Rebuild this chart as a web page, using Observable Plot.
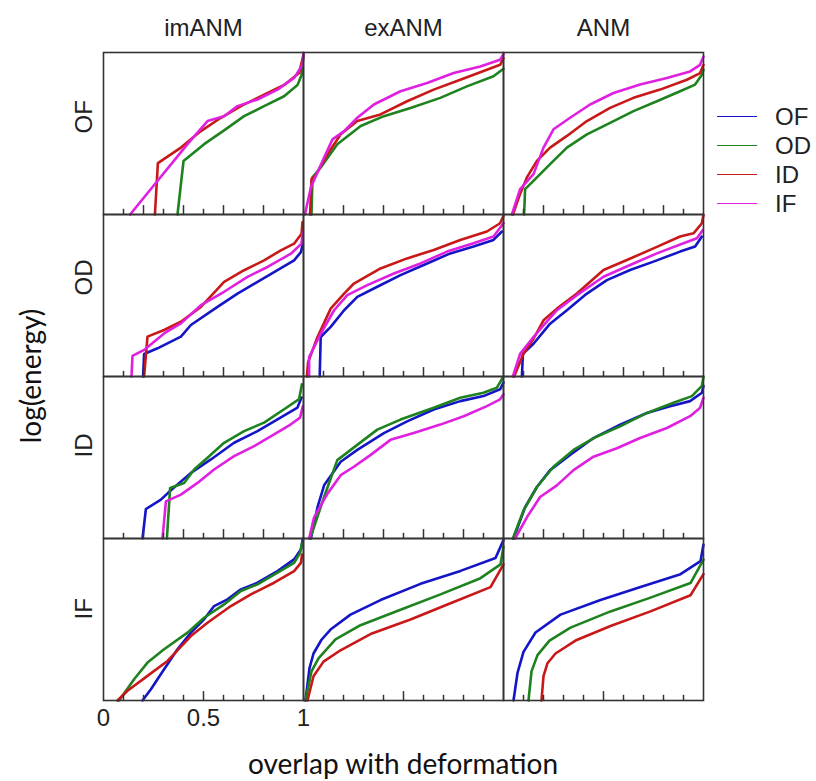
<!DOCTYPE html>
<html><head><meta charset="utf-8">
<script src="https://cdn.jsdelivr.net/npm/d3@7"></script>
<script src="https://cdn.jsdelivr.net/npm/@observablehq/plot@0.6"></script>
<style>
body{margin:0;background:#fff;}
#wrap{position:relative;width:816px;height:781px;font-family:"Liberation Sans",Arial,sans-serif;color:#222;overflow:hidden;}
.lab{position:absolute;font-family:Lato,"Open Sans",sans-serif;font-size:28px;line-height:32px;white-space:nowrap;color:#111;}
#legend{position:absolute;left:717px;top:102px;}
.li{display:flex;align-items:center;height:29px;font-size:24px;}
.li span.sw{display:inline-block;width:40px;height:1.6px;margin-right:18px;}
</style></head><body><div id="wrap"></div>
<script>
const columns = ["imANM", "exANM", "ANM"];
const rows = ["OF", "OD", "ID", "IF"];
const series = ["OF", "OD", "ID", "IF"];
const colors = ["#1515c8", "#1e821e", "#c81818", "#e020e0"];
const xTicks = [0.1, 0.2, 0.3, 0.4, 0.5, 0.6, 0.7, 0.8, 0.9];
const xTickLabels = [0, 0.5, 1];

// row OF
const OF_imANM_OD = [[0.37,0],[0.40,0.33],[0.503,0.434],[0.603,0.519],[0.703,0.607],[0.803,0.669],[0.903,0.73],[0.97,0.80],[0.99,0.86],[1,0.985]];
const OF_imANM_ID = [[0.257,0],[0.272,0.317],[0.387,0.413],[0.487,0.515],[0.587,0.597],[0.687,0.669],[0.803,0.74],[0.903,0.80],[0.978,0.873],[1,0.985]];
const OF_imANM_IF = [[0.133,0],[0.42,0.434],[0.52,0.577],[0.603,0.607],[0.67,0.669],[0.77,0.71],[0.87,0.771],[0.953,0.843],[0.995,0.924],[1,0.996]];
const OF_exANM_OD = [[0.04,0],[0.045,0.229],[0.086,0.29],[0.169,0.434],[0.286,0.546],[0.402,0.607],[0.535,0.658],[0.684,0.72],[0.817,0.791],[0.95,0.853],[1,0.9]];
const OF_exANM_ID = [[0.033,0],[0.04,0.219],[0.06,0.24],[0.12,0.372],[0.186,0.495],[0.269,0.577],[0.385,0.618],[0.518,0.699],[0.651,0.771],[0.784,0.832],[0.917,0.894],[0.983,0.924],[1,0.965]];
const OF_exANM_IF = [[0.007,0],[0.037,0.168],[0.103,0.352],[0.145,0.464],[0.203,0.515],[0.269,0.597],[0.352,0.679],[0.485,0.761],[0.618,0.812],[0.751,0.873],[0.884,0.914],[0.983,0.955],[1,0.99]];
const OF_ANM_OD = [[0.103,0],[0.108,0.157],[0.167,0.229],[0.233,0.311],[0.317,0.413],[0.417,0.495],[0.533,0.566],[0.65,0.638],[0.767,0.699],[0.883,0.761],[0.958,0.802],[0.992,0.863],[1,0.894]];
const OF_ANM_ID = [[0.047,0],[0.083,0.127],[0.117,0.229],[0.167,0.331],[0.233,0.413],[0.317,0.485],[0.417,0.577],[0.533,0.658],[0.65,0.72],[0.783,0.771],[0.917,0.832],[0.983,0.873],[1,0.924]];
const OF_ANM_IF = [[0.042,0],[0.083,0.157],[0.15,0.249],[0.2,0.413],[0.25,0.526],[0.333,0.597],[0.433,0.679],[0.55,0.75],[0.683,0.802],[0.817,0.843],[0.933,0.883],[0.983,0.924],[1,0.975]];
// row OD
const OD_imANM_OF = [[0.198,0],[0.203,0.139],[0.27,0.174],[0.387,0.246],[0.437,0.318],[0.57,0.43],[0.67,0.512],[0.77,0.584],[0.87,0.656],[0.953,0.717],[0.987,0.768],[0.997,0.82]];
const OD_imANM_ID = [[0.203,0],[0.22,0.246],[0.303,0.287],[0.387,0.338],[0.487,0.43],[0.603,0.584],[0.703,0.656],[0.803,0.717],[0.887,0.779],[0.953,0.82],[0.99,0.881],[0.995,0.953]];
const OD_imANM_IF = [[0.14,0],[0.145,0.127],[0.203,0.164],[0.303,0.266],[0.387,0.328],[0.487,0.44],[0.603,0.523],[0.72,0.615],[0.82,0.676],[0.937,0.758],[0.99,0.82],[0.997,0.891]];
const OD_exANM_OF = [[0.081,0],[0.086,0.244],[0.136,0.306],[0.203,0.409],[0.269,0.492],[0.369,0.554],[0.485,0.626],[0.601,0.688],[0.734,0.76],[0.85,0.802],[0.95,0.843],[0.992,0.895]];
const OD_exANM_ID = [[0.017,0],[0.023,0.089],[0.07,0.244],[0.136,0.419],[0.203,0.512],[0.252,0.574],[0.385,0.667],[0.518,0.729],[0.651,0.781],[0.784,0.843],[0.917,0.895],[0.983,0.946],[1,0.992]];
const OD_exANM_IF = [[0.028,0],[0.028,0.12],[0.086,0.264],[0.153,0.409],[0.219,0.502],[0.319,0.564],[0.452,0.636],[0.585,0.698],[0.718,0.771],[0.85,0.822],[0.95,0.864],[1,0.946]];
const OD_ANM_OF = [[0.092,0],[0.097,0.14],[0.15,0.202],[0.233,0.326],[0.317,0.409],[0.417,0.512],[0.517,0.595],[0.633,0.657],[0.75,0.709],[0.883,0.771],[0.958,0.802],[0.992,0.864]];
const OD_ANM_ID = [[0.053,0],[0.1,0.14],[0.15,0.233],[0.2,0.347],[0.267,0.419],[0.367,0.512],[0.5,0.657],[0.617,0.719],[0.75,0.791],[0.883,0.864],[0.95,0.884],[0.992,0.946],[1,0.998]];
const OD_ANM_IF = [[0.047,0],[0.083,0.14],[0.15,0.244],[0.2,0.316],[0.267,0.409],[0.367,0.502],[0.5,0.616],[0.633,0.688],[0.767,0.76],[0.9,0.822],[0.967,0.853],[0.997,0.905]];
// row ID
const ID_imANM_OF = [[0.195,0],[0.212,0.182],[0.287,0.24],[0.337,0.298],[0.437,0.405],[0.537,0.488],[0.653,0.591],[0.77,0.663],[0.87,0.736],[0.97,0.808],[0.99,0.87]];
const ID_imANM_OD = [[0.317,0],[0.333,0.312],[0.403,0.343],[0.453,0.426],[0.52,0.498],[0.603,0.591],[0.703,0.663],[0.803,0.715],[0.903,0.798],[0.978,0.86],[0.992,0.952]];
const ID_imANM_IF = [[0.295,0],[0.312,0.229],[0.387,0.271],[0.47,0.343],[0.553,0.426],[0.653,0.508],[0.753,0.57],[0.853,0.643],[0.937,0.705],[0.983,0.746],[0.997,0.818]];
const ID_exANM_OF = [[0.037,0],[0.07,0.193],[0.103,0.328],[0.186,0.474],[0.269,0.547],[0.402,0.651],[0.518,0.723],[0.651,0.796],[0.784,0.848],[0.9,0.879],[0.983,0.921],[1,0.963]];
const ID_exANM_OD = [[0.033,0],[0.103,0.256],[0.169,0.484],[0.236,0.547],[0.369,0.672],[0.485,0.734],[0.651,0.807],[0.784,0.869],[0.9,0.9],[0.967,0.931],[0.997,0.994]];
const ID_exANM_IF = [[0.028,0],[0.053,0.131],[0.12,0.277],[0.186,0.391],[0.252,0.443],[0.336,0.516],[0.435,0.609],[0.551,0.651],[0.684,0.703],[0.801,0.755],[0.917,0.817],[0.983,0.859],[1,0.89]];
const ID_ANM_OF = [[0.05,0],[0.108,0.193],[0.167,0.318],[0.233,0.422],[0.333,0.516],[0.45,0.62],[0.583,0.703],[0.717,0.775],[0.833,0.817],[0.933,0.848],[0.992,0.9],[1,0.942]];
const ID_ANM_OD = [[0.047,0],[0.1,0.173],[0.167,0.318],[0.25,0.443],[0.35,0.547],[0.467,0.63],[0.583,0.692],[0.717,0.775],[0.85,0.838],[0.942,0.879],[0.992,0.942],[1,1.0]];
const ID_ANM_IF = [[0.058,0],[0.117,0.131],[0.183,0.256],[0.267,0.328],[0.35,0.422],[0.45,0.505],[0.567,0.557],[0.683,0.62],[0.817,0.682],[0.933,0.755],[0.983,0.807],[1,0.869]];
// row IF
const IF_imANM_OF = [[0.195,0],[0.237,0.07],[0.303,0.193],[0.37,0.316],[0.437,0.419],[0.503,0.501],[0.553,0.583],[0.62,0.624],[0.687,0.686],[0.77,0.727],[0.87,0.799],[0.953,0.871],[0.987,0.932],[0.997,1.0]];
const IF_imANM_OD = [[0.078,0],[0.153,0.131],[0.22,0.234],[0.303,0.316],[0.42,0.419],[0.503,0.511],[0.603,0.593],[0.687,0.676],[0.77,0.717],[0.87,0.789],[0.953,0.85],[0.983,0.912],[0.993,0.973]];
const IF_imANM_ID = [[0.07,0],[0.12,0.06],[0.22,0.152],[0.32,0.244],[0.437,0.398],[0.52,0.48],[0.637,0.583],[0.737,0.655],[0.853,0.727],[0.953,0.799],[0.987,0.85],[0.993,0.901]];
const IF_exANM_OF = [[0.01,0],[0.03,0.2],[0.05,0.29],[0.09,0.375],[0.135,0.438],[0.235,0.53],[0.385,0.62],[0.585,0.72],[0.785,0.8],[0.96,0.88],[1,0.99]];
const IF_exANM_OD = [[0.01,0],[0.04,0.18],[0.075,0.26],[0.16,0.377],[0.285,0.465],[0.485,0.56],[0.685,0.655],[0.885,0.755],[0.985,0.84],[1,0.95]];
const IF_exANM_ID = [[0.02,0],[0.05,0.15],[0.1,0.24],[0.185,0.31],[0.335,0.41],[0.535,0.5],[0.735,0.6],[0.935,0.7],[1,0.84]];
const IF_ANM_OF = [[0.05,0],[0.07,0.17],[0.1,0.3],[0.16,0.42],[0.285,0.53],[0.485,0.62],[0.685,0.7],[0.885,0.78],[0.985,0.86],[1,0.963]];
const IF_ANM_OD = [[0.125,0],[0.14,0.18],[0.17,0.28],[0.23,0.37],[0.335,0.45],[0.535,0.55],[0.735,0.635],[0.935,0.725],[1,0.87]];
const IF_ANM_ID = [[0.19,0],[0.2,0.15],[0.22,0.23],[0.26,0.29],[0.36,0.37],[0.535,0.46],[0.735,0.55],[0.935,0.65],[1,0.78]];

const curves = {
  OF_imANM_OD, OF_imANM_ID, OF_imANM_IF, OF_exANM_OD, OF_exANM_ID, OF_exANM_IF, OF_ANM_OD, OF_ANM_ID, OF_ANM_IF,
  OD_imANM_OF, OD_imANM_ID, OD_imANM_IF, OD_exANM_OF, OD_exANM_ID, OD_exANM_IF, OD_ANM_OF, OD_ANM_ID, OD_ANM_IF,
  ID_imANM_OF, ID_imANM_OD, ID_imANM_IF, ID_exANM_OF, ID_exANM_OD, ID_exANM_IF, ID_ANM_OF, ID_ANM_OD, ID_ANM_IF,
  IF_imANM_OF, IF_imANM_OD, IF_imANM_ID, IF_exANM_OF, IF_exANM_OD, IF_exANM_ID, IF_ANM_OF, IF_ANM_OD, IF_ANM_ID
};

const lineData = [];
for (const [key, pts] of Object.entries(curves)) {
  const [row, col, s] = key.split("_");
  for (const [x, y] of pts) lineData.push({key, row, col, series: s, x, y});
}
const tickData = rows.flatMap(row => columns.flatMap(col => xTicks.map(x => ({
  row, col, x, major: row === "IF" ? x === 0.5 : [0.2, 0.4, 0.6, 0.8].includes(x)
}))));

const plot = Plot.plot({
  width: 816, height: 781,
  marginLeft: 102.7, marginRight: 112.7, marginTop: 51, marginBottom: 80,
  x: {domain: [0, 1], axis: null},
  y: {domain: [0, 1], axis: null},
  fx: {domain: columns, padding: 0, axis: null},
  fy: {domain: rows, padding: 0, axis: null},
  color: {domain: series, range: colors},
  style: {fontFamily: '"Liberation Sans", Arial, sans-serif', background: "white", overflow: "visible"},
  marks: [
    Plot.line(lineData, {x: "x", y: "y", z: "key", stroke: "series", fx: "col", fy: "row", strokeWidth: 2.6, strokeLinejoin: "round"}),
    Plot.ruleX(tickData, {x: "x", y1: 0, y2: d => d.major ? 0.055 : 0.032, fx: "col", fy: "row", stroke: "#333", strokeWidth: 1.5}),
    Plot.frame({stroke: "#333", strokeWidth: 1.6}),
    Plot.text(columns, {fx: d => d, fy: () => "OF", text: d => d, frameAnchor: "top", lineAnchor: "middle", dy: -24, fontSize: 24, fill: "#222"}),
    Plot.text(rows, {fy: d => d, fx: () => "imANM", text: d => d, frameAnchor: "left", dx: -19, rotate: -90, fontSize: 24, fill: "#222"}),
    Plot.text(xTickLabels, {x: d => d, fx: () => "imANM", fy: () => "IF", text: d => String(d), frameAnchor: "bottom", lineAnchor: "middle", dy: 18, fontSize: 24, fill: "#222"})
  ]
});

const wrap = document.getElementById("wrap");
wrap.appendChild(plot);

const yl = document.createElement("div");
yl.className = "lab"; yl.textContent = "log(energy)";
yl.style.left = "30px"; yl.style.top = "376px"; yl.style.transform = "translate(-50%,-50%) rotate(-90deg)";
wrap.appendChild(yl);

const xl = document.createElement("div");
xl.className = "lab"; xl.textContent = "overlap with deformation";
xl.style.left = "403px"; xl.style.top = "763px"; xl.style.transform = "translate(-50%,-50%)";
wrap.appendChild(xl);

const lg = document.createElement("div");
lg.id = "legend";
series.forEach((s, i) => {
  const row = document.createElement("div");
  row.className = "li";
  const sw = document.createElement("span");
  sw.className = "sw"; sw.style.background = colors[i];
  row.appendChild(sw);
  row.appendChild(document.createTextNode(s));
  lg.appendChild(row);
});
wrap.appendChild(lg);
</script></body></html>
